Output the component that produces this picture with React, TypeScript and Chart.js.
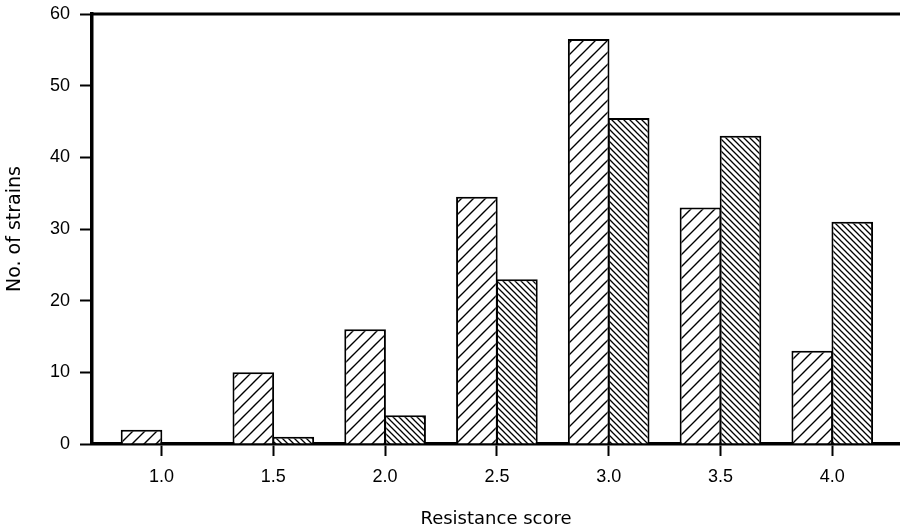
import React, { useEffect, useRef } from "react";
import { Chart, registerables } from "chart.js";

Chart.register(...registerables);

const scores = [1.0, 1.5, 2.0, 2.5, 3.0, 3.5, 4.0];
const seriesA = [2, 10, 16, 34.5, 56.5, 33, 13];
const seriesB = [null, 1, 4, 23, 45.5, 43, 31];
const yTicks = [0, 10, 20, 30, 40, 50, 60];
const xTitle = "Resistance score";
const yTitle = "No. of strains";

function makePattern(size: number, rising: boolean, lw: number) {
  const c = document.createElement("canvas");
  c.width = size;
  c.height = size;
  const ctx = c.getContext("2d")!;
  ctx.fillStyle = "#fff";
  ctx.fillRect(0, 0, size, size);
  ctx.strokeStyle = "#000";
  ctx.lineWidth = lw;
  ctx.beginPath();
  if (rising) {
    ctx.moveTo(-1, size + 1);
    ctx.lineTo(size + 1, -1);
    ctx.moveTo(-1, 1);
    ctx.lineTo(1, -1);
    ctx.moveTo(size - 1, size + 1);
    ctx.lineTo(size + 1, size - 1);
  } else {
    ctx.moveTo(-1, -1);
    ctx.lineTo(size + 1, size + 1);
    ctx.moveTo(size - 1, -1);
    ctx.lineTo(size + 1, 1);
    ctx.moveTo(-1, size - 1);
    ctx.lineTo(1, size + 1);
  }
  ctx.stroke();
  return ctx.createPattern(c, "repeat")!;
}

export default function App() {
  const ref = useRef<HTMLCanvasElement>(null);
  useEffect(() => {
    const canvas = ref.current!;
    const patA = makePattern(12, true, 1.4);
    const patB = makePattern(6, false, 1.3);
    const topLine = {
      id: "topLine",
      afterDraw(chart: any) {
        const { ctx, chartArea } = chart;
        ctx.save();
        ctx.strokeStyle = "#000";
        ctx.lineWidth = 3;
        ctx.beginPath();
        ctx.moveTo(chartArea.left - 1.5, chartArea.top);
        ctx.lineTo(chart.width, chartArea.top);
        ctx.stroke();
        ctx.restore();
      },
    };
    const chart = new Chart(canvas, {
      type: "bar",
      data: {
        datasets: [
          {
            data: scores.map((s, i) => ({ x: s, y: seriesA[i] })),
            backgroundColor: patA,
            borderColor: "#000",
            borderWidth: 2,
            categoryPercentage: 0.716,
            barPercentage: 1.04,
          },
          {
            data: scores.map((s, i) => ({ x: s, y: seriesB[i] })),
            backgroundColor: patB,
            borderColor: "#000",
            borderWidth: 2,
            categoryPercentage: 0.716,
            barPercentage: 1.04,
          },
        ] as any,
      },
      options: {
        animation: false,
        responsive: true,
        maintainAspectRatio: false,
        layout: { padding: { top: 14, left: 0, right: 0, bottom: 0 } },
        plugins: { legend: { display: false }, tooltip: { enabled: false } },
        scales: {
          x: {
            type: "linear",
            offset: false,
            min: 0.689,
            max: 4.303,
            afterBuildTicks: (scale: any) => {
              scale.ticks = scores.map((v) => ({ value: v }));
            },
            afterFit: (scale: any) => {
              scale.height = 84;
              scale.paddingLeft = 0;
              scale.paddingRight = 0;
            },
            ticks: {
              color: "#000",
              font: { family: "Liberation Sans", size: 18 },
              padding: 10,
              callback: (v: any) => Number(v).toFixed(1),
              maxRotation: 0,
              autoSkip: false,
            },
            grid: {
              display: true,
              offset: false,
              drawOnChartArea: false,
              drawTicks: true,
              tickLength: 12,
              tickWidth: 2,
              tickColor: "#000",
            },
            border: { display: true, color: "#000", width: 3.5 },
            title: {
              display: true,
              text: xTitle,
              color: "#000",
              font: { family: "DejaVu Sans", size: 18, lineHeight: 1 },
              padding: 0,
            },
          },
          y: {
            min: 0,
            max: 60,
            afterBuildTicks: (scale: any) => {
              scale.ticks = yTicks.map((v) => ({ value: v }));
            },
            afterFit: (scale: any) => {
              scale.width = 92;
              scale.paddingTop = 0;
              scale.paddingBottom = 0;
            },
            ticks: {
              color: "#000",
              font: { family: "Liberation Sans", size: 18 },
              padding: 10,
            },
            grid: {
              display: true,
              drawOnChartArea: false,
              drawTicks: true,
              tickLength: 12,
              tickWidth: 2,
              tickColor: "#000",
            },
            border: { display: true, color: "#000", width: 3.5 },
            title: {
              display: true,
              text: yTitle,
              color: "#000",
              font: { family: "DejaVu Sans", size: 19, lineHeight: 1.2 },
              padding: { top: 4, bottom: 0 },
            },
          },
        },
      },
      plugins: [topLine],
    });
    return () => chart.destroy();
  }, []);
  return (
    <div style={{ position: "fixed", left: 0, top: 0, width: 900, height: 528, background: "#fff" }}>
      <canvas ref={ref} />
    </div>
  );
}
